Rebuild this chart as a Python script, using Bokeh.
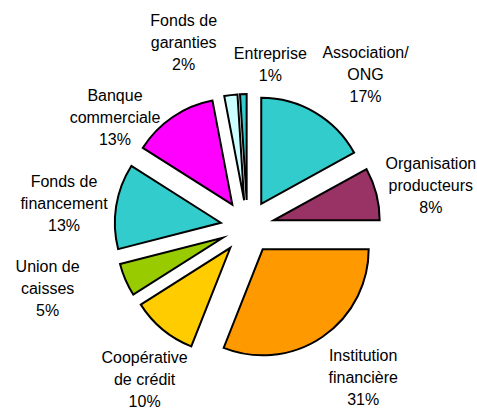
import numpy as np
from bokeh.plotting import figure
from bokeh.models import Range1d, ColumnDataSource
from bokeh.core.properties import value
from bokeh.embed import file_html
from bokeh.resources import INLINE

# ---- data ----
categories = ["Association/\nONG", "Organisation\nproducteurs", "Institution\nfinancière",
              "Coopérative\nde crédit", "Union de\ncaisses", "Fonds de\nfinancement",
              "Banque\ncommerciale", "Fonds de\ngaranties", "Entreprise"]
percent = [17, 8, 31, 10, 5, 13, 13, 2, 1]
colors = ["#33CCCC", "#993366", "#FF9900", "#FFCC00", "#99CC00", "#33CCCC",
          "#FF00FF", "#CCFFFF", "#33CCCC"]

# ---- layout (label placement tweaks, pixels / degrees) ----
label_dtheta = [7.1, 1.6, -3.3, -5.6, 6.4, -1.7, -16.2, -11.9, 9.8]
label_r = [193, 188, 190, 184, 209, 185, 172, 195, 164]

W, H = 477, 412
cx, cy = 247, 412 - 226.5
R = 106
explode = 27

vals = np.array(percent, dtype=float)
frac = vals / vals.sum()
cum = np.concatenate([[0], np.cumsum(frac)])
theta1 = cum[:-1] * 360.0   # clockwise from 12 o'clock
theta2 = cum[1:] * 360.0
mid = (theta1 + theta2) / 2

mid_r = np.radians(mid)
xs = cx + explode * np.sin(mid_r)
ys = cy + explode * np.cos(mid_r)
start = np.radians(90 - theta1)
end = np.radians(90 - theta2)

src = ColumnDataSource(dict(x=xs, y=ys, start=start, end=end, color=colors))

p = figure(width=W, height=H, x_range=Range1d(0, W), y_range=Range1d(0, H),
           min_border=0, output_backend="svg", toolbar_location=None)
p.axis.visible = False
p.grid.visible = False
p.outline_line_color = None

p.wedge(x="x", y="y", radius=R, start_angle="start", end_angle="end",
        direction="clock", fill_color="color", line_color="black",
        line_width=2, line_join="miter", source=src)

lab_theta = np.radians(mid + np.array(label_dtheta))
lx = cx + np.array(label_r) * np.sin(lab_theta)
ly = cy + np.array(label_r) * np.cos(lab_theta)
labels = [f"{c}\n{v}%" for c, v in zip(categories, percent)]
lsrc = ColumnDataSource(dict(x=lx, y=ly, text=labels))
p.text(x="x", y="y", text="text", source=lsrc, text_align="center",
       text_baseline="middle", text_font=value("Liberation Sans"),
       text_font_size="16px", text_line_height=1.3, text_color="black")

open("out.html", "w").write(file_html(p, INLINE))
